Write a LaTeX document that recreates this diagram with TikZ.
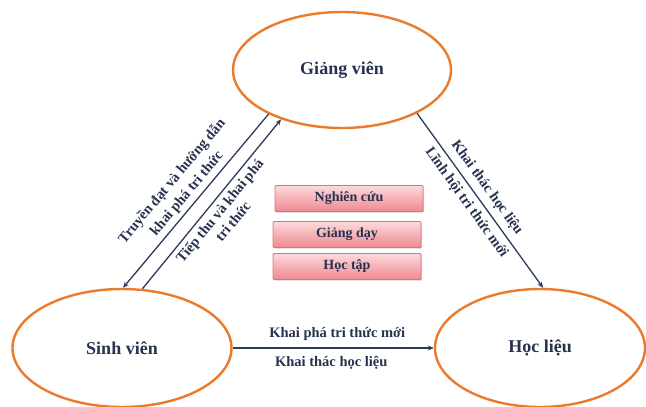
\documentclass[tikz,border=0pt]{standalone}
\usepackage{fontspec}
\setmainfont{Liberation Serif}
\usetikzlibrary{shapes.geometric,arrows.meta,shadows}
\definecolor{ringc}{HTML}{EC7A2C}
\definecolor{inkc}{HTML}{26324F}
\definecolor{arrc}{HTML}{2C3A5C}
\definecolor{pinktop}{HTML}{FCDADC}
\definecolor{pinkbot}{HTML}{F08890}
\definecolor{pinkline}{HTML}{E07080}
\begin{document}
\begin{tikzpicture}[x=1pt,y=-1pt,
  actor/.style={ellipse, draw=ringc, line width=2.4pt, fill=white, inner sep=0pt,
    text=inkc, font=\fontsize{18}{21}\selectfont\bfseries},
  task/.style={rectangle, rounded corners=1pt, draw=pinkline, line width=0.8pt,
    top color=pinktop, bottom color=pinkbot, minimum width=148pt, minimum height=26pt,
    text=inkc, font=\fontsize{14}{16}\selectfont\bfseries,
    drop shadow={shadow xshift=1.2pt, shadow yshift=-1.2pt, opacity=0.35}},
  flow/.style={draw=arrc, line width=1.3pt, -{Stealth[length=6pt,width=5pt]}},
  lbl/.style={text=inkc, font=\fontsize{14.5}{17}\selectfont\bfseries, align=center, inner sep=1pt}
]
\useasboundingbox (0,0) rectangle (646,407);

\node[actor, minimum width=218pt, minimum height=116pt] (gv) at (342,70) {Giảng viên};
\node[actor, minimum width=219pt, minimum height=118pt] (sv) at (122,348) {Sinh viên};
\node[actor, minimum width=210pt, minimum height=118pt] (hl) at (540,348) {Học liệu};

\node[task] (b1) at (349,198.5) {Nghiên cứu};
\node[task] (b2) at (347,234.5) {Giảng dạy};
\node[task] (b3) at (347,266.5) {Học tập};

\draw[flow] (gv.211) -- node[lbl, sloped, above=3pt, pos=0.5] (l1) {Truyền đạt và hướng dẫn\\[2pt]khai phá tri thức} (sv.89);
\draw[flow] (sv.71) -- node[lbl, sloped, below=3pt, pos=0.5] (l2) {Tiếp thu và khai phá\\tri thức} (gv.219);
\draw[flow] (gv.330) -- node[lbl, sloped, above=5pt, pos=0.47] (l3) {Khai thác học liệu}
                      node[lbl, sloped, below=4pt, pos=0.47] (l4) {Lĩnh hội tri thức mới} (hl.87);
\draw[flow] (sv.east) -- node[lbl, above=6pt, pos=0.52] (l5) {Khai phá tri thức mới}
                        node[lbl, below=7pt, pos=0.49] (l6) {Khai thác học liệu} (hl.west);
\end{tikzpicture}
\end{document}
